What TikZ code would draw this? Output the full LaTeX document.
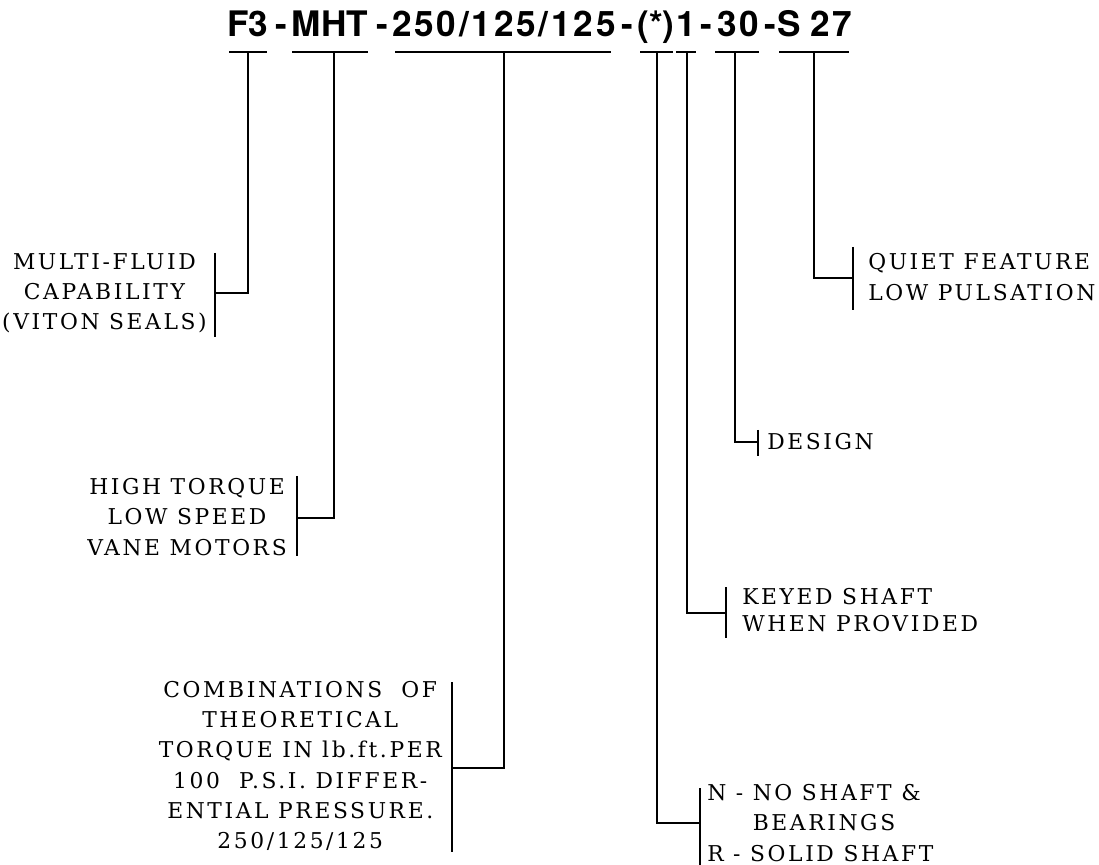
\documentclass[tikz,border=0pt]{standalone}
\usepackage{fontspec}
\usepackage{tikz}
\newfontfamily\codefont{TeX Gyre Heros}
\newfontfamily\codefontwide{TeX Gyre Heros}[LetterSpace=8]
\newfontfamily\labelfam{DejaVu Serif}[LetterSpace=12]
\newcommand\labelfont{\labelfam\fontsize{15.5}{21.5}\selectfont}
\newcommand\keyfont{\labelfam\fontsize{15.5}{19}\selectfont}
\newcommand\titlefont{\codefont\bfseries\fontsize{25}{30}\selectfont}
\newcommand\titlefontwide{\codefontwide\bfseries\fontsize{25}{30}\selectfont}

\begin{document}
\begin{tikzpicture}[x=0.025cm,y=-0.025cm,
    lead/.style={line width=1.3pt,line cap=butt},
    tag/.style={inner sep=0pt,font=\labelfont},
    seg/.style={inner sep=0pt,anchor=base,font=\titlefont},
    segwide/.style={seg,font=\titlefontwide}]
  \useasboundingbox (0,0) rectangle (1099,865);
  % the part number
  \node[seg] (f3) at (248,37) {F3};
  \node[seg] (d1) at (281,37) {-};
  \node[seg] (mht) at (330,37) {MHT};
  \node[seg] (d2) at (382,37) {-};
  \node[segwide] (tq) at (504,37) {250/125/125};
  \node[seg] (d3) at (627,37) {-};
  \node[seg] (star) at (656,37) {(*)};
  \node[seg] (one) at (686,37) {1};
  \node[seg] (d4) at (706,37) {-};
  \node[segwide] (des) at (738,37) {30};
  \node[seg] (d5) at (770,37) {-};
  \node[segwide] (qf) at (815,37) {S\;27};
  \foreach \a/\b in {229/267,292/368,395/611,640/673,676/696,715/759,779/849}{
    \draw[lead] (\a,52)--(\b,52);
  }
  \coordinate (f3t) at (248,52);
  \coordinate (mhtt) at (334,52);
  \coordinate (tqt) at (504,52);
  \coordinate (start) at (657,52);
  \coordinate (onet) at (687,52);
  \coordinate (dest) at (735,52);
  \coordinate (qft) at (814,52);
  % the labels
  \node[tag,anchor=east,align=center] (fluid) at (207,293)
    {MULTI-FLUID\\CAPABILITY\\(VITON SEALS)};
  \node[tag,anchor=east,align=center] (motor) at (287,517)
    {HIGH TORQUE\\LOW SPEED\\VANE MOTORS};
  \node[tag,anchor=east,align=center] (comb) at (442,766)
    {COMBINATIONS\ \ OF\\THEORETICAL\\TORQUE IN lb.ft.PER\\
     100\ \ P.S.I. DIFFER-\\ENTIAL PRESSURE.\\250/125/125};
  \node[tag,anchor=west,align=left] (shaft) at (707,823)
    {N - NO SHAFT \&\\\hphantom{N - }BEARINGS\\R - SOLID SHAFT};
  \node[tag,anchor=west,align=left,font=\keyfont] (keyed) at (742,610)
    {KEYED SHAFT\\WHEN PROVIDED};
  \node[tag,anchor=west] (design) at (767,442) {DESIGN};
  \node[tag,anchor=west,align=left] (quiet) at (868,277)
    {QUIET FEATURE\\LOW PULSATION};
  % brackets
  \coordinate (fluidj) at (215,293);
  \coordinate (motorj) at (297,518);
  \coordinate (combj) at (452,768);
  \coordinate (shaftj) at (700,823);
  \coordinate (keyedj) at (726,613);
  \coordinate (designj) at (758,442);
  \coordinate (quietj) at (853,278);
  \draw[lead] (215,253)--(215,337);
  \draw[lead] (297,476)--(297,556);
  \draw[lead] (452,682)--(452,852);
  \draw[lead] (700,788)--(700,866);
  \draw[lead] (726,587)--(726,638);
  \draw[lead] (758,430)--(758,456);
  \draw[lead] (853,247)--(853,310);
  \draw[lead] (f3t) |- (fluidj);
  \draw[lead] (mhtt) |- (motorj);
  \draw[lead] (tqt) |- (combj);
  \draw[lead] (start) |- (shaftj);
  \draw[lead] (onet) |- (keyedj);
  \draw[lead] (dest) |- (designj);
  \draw[lead] (qft) |- (quietj);
\end{tikzpicture}
\end{document}
